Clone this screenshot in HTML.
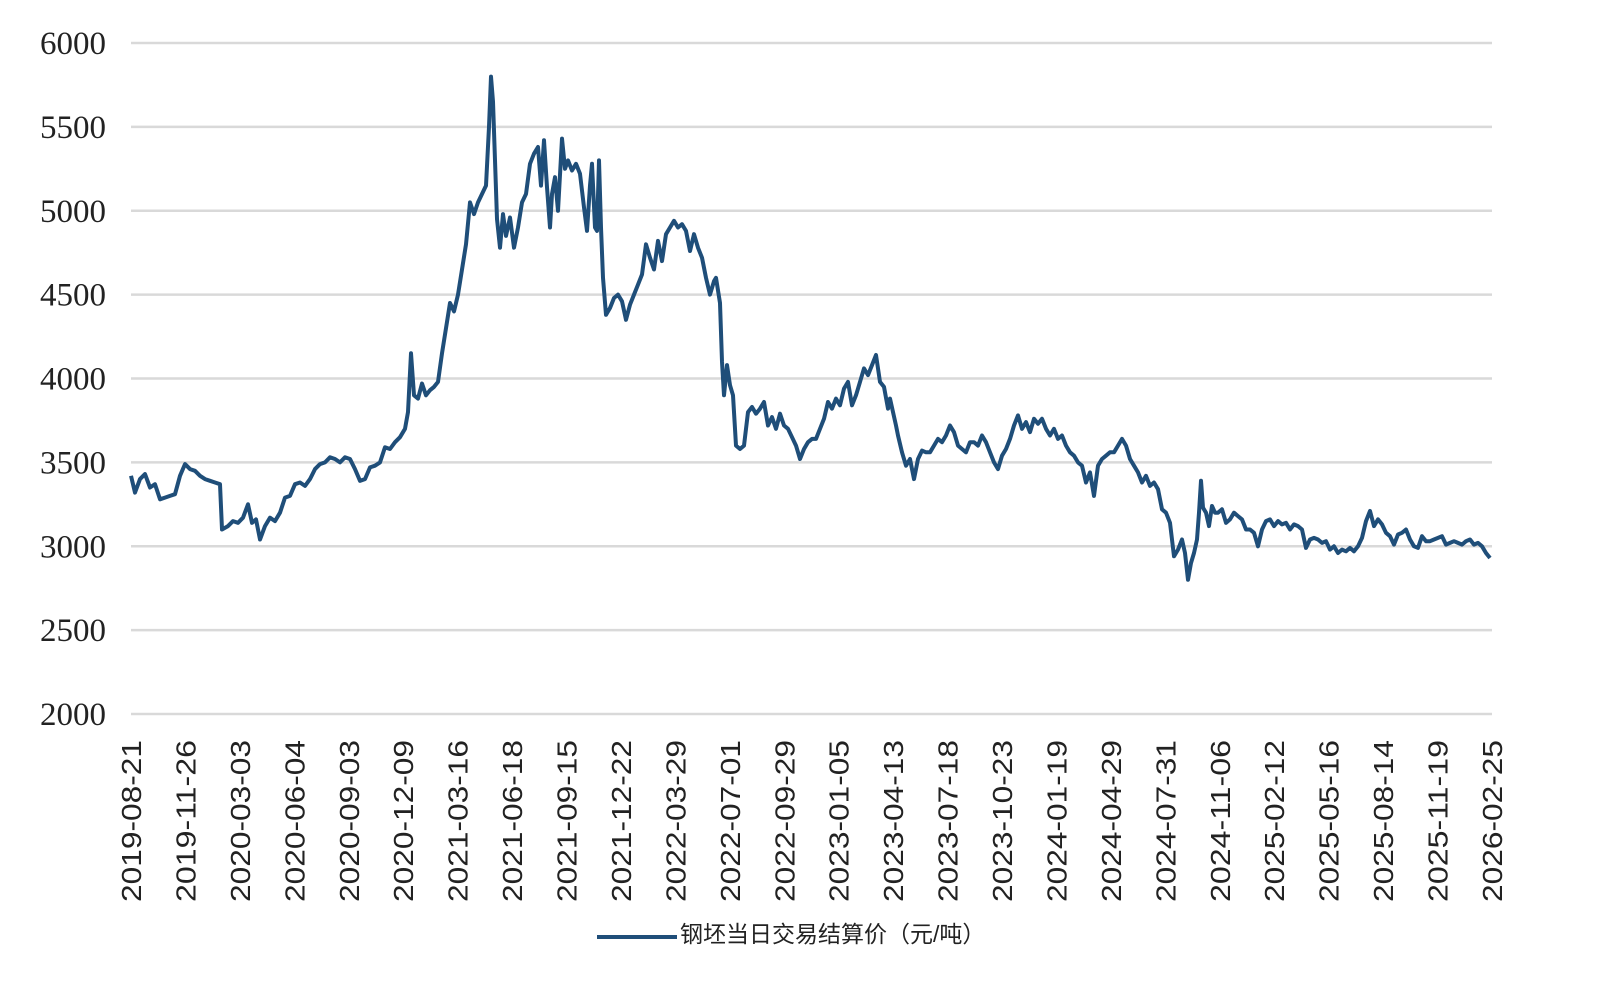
<!DOCTYPE html>
<html><head><meta charset="utf-8"><style>
html,body{margin:0;padding:0;background:#fff;}
svg{display:block;}
</style></head><body>
<svg id="chart" width="1611" height="1008" viewBox="0 0 1611 1008" xmlns="http://www.w3.org/2000/svg">
<g id="grid"></g>
<g id="yaxis"></g>
<g id="xaxis"></g>
<g id="series"></g>
<g>
<line x1="597" y1="937" x2="677" y2="937" stroke="#1f4e79" stroke-width="4"/>
<text x="680" y="942" font-size="23" fill="#222" font-family="'Liberation Sans','Noto Sans CJK SC',sans-serif">钢坯当日交易结算价（元/吨）</text>
</g>
</svg>
<script>
const yTicks = [2000,2500,3000,3500,4000,4500,5000,5500,6000];
const xLabels = ["2019-08-21","2019-11-26","2020-03-03","2020-06-04","2020-09-03","2020-12-09","2021-03-16","2021-06-18","2021-09-15","2021-12-22","2022-03-29","2022-07-01","2022-09-29","2023-01-05","2023-04-13","2023-07-18","2023-10-23","2024-01-19","2024-04-29","2024-07-31","2024-11-06","2025-02-12","2025-05-16","2025-08-14","2025-11-19","2026-02-25"];
const tradeDay = [0,4,9,14,19,24,29,34,39,44,49,54,59,64,69,74,79,84,89,91,97,102,107,112,117,121,125,129,134,139,144,149,154,159,164,169,174,179,184,189,194,199,204,209,214,219,224,229,234,239,244,249,254,259,264,269,274,277,280,283,287,291,295,299,303,307,311,315,319,323,327,331,335,339,343,347,351,355,358,360,362,364,366,369,372,375,379,383,387,391,395,399,403,407,410,413,416,419,421,424,427,431,434,437,441,445,449,453,456,459,461,464,466,468,470,472,475,479,483,487,491,495,499,503,507,511,515,519,523,527,531,535,539,543,547,551,555,559,563,567,571,575,579,583,585,589,591,593,596,599,602,605,609,613,617,621,625,629,633,637,641,645,649,653,657,661,665,669,673,677,681,685,689,693,697,701,705,709,713,717,721,725,729,733,737,741,745,749,753,757,759,762,765,767,771,775,779,783,787,791,795,799,803,807,811,815,819,823,827,831,835,839,843,847,851,855,859,863,867,871,875,879,883,887,891,895,899,903,907,911,915,919,923,927,931,935,939,943,947,951,955,959,963,967,971,975,979,983,987,991,995,999,1003,1007,1011,1015,1019,1023,1027,1031,1035,1039,1043,1047,1051,1054,1057,1060,1063,1066,1068,1070,1072,1075,1078,1081,1084,1087,1091,1095,1099,1103,1107,1111,1115,1119,1123,1127,1131,1135,1139,1143,1147,1151,1155,1159,1163,1167,1171,1175,1179,1183,1187,1191,1195,1199,1203,1207,1211,1215,1219,1223,1227,1231,1235,1239,1243,1247,1251,1255,1259,1263,1267,1271,1275,1279,1283,1287,1291,1295,1299,1303,1307,1311,1315,1319,1323,1327,1331,1335,1339,1343,1347,1351,1355,1359];
const price = [3420,3320,3400,3430,3350,3370,3280,3290,3300,3310,3420,3490,3460,3450,3420,3400,3390,3380,3370,3100,3120,3150,3140,3170,3250,3140,3160,3040,3120,3170,3150,3200,3290,3300,3370,3380,3360,3400,3460,3490,3500,3530,3520,3500,3530,3520,3460,3390,3400,3470,3480,3500,3590,3580,3620,3650,3700,3800,4150,3900,3880,3970,3900,3930,3950,3980,4150,4300,4450,4400,4500,4650,4800,5050,4980,5050,5100,5150,5500,5800,5650,5300,4950,4780,4980,4850,4960,4780,4900,5050,5100,5280,5340,5380,5150,5420,5140,4900,5100,5200,5000,5430,5250,5300,5240,5280,5220,5020,4880,5150,5280,4900,4880,5300,4900,4600,4380,4420,4480,4500,4460,4350,4440,4500,4560,4620,4800,4720,4650,4820,4700,4860,4900,4940,4900,4920,4880,4760,4860,4780,4720,4600,4500,4580,4600,4450,4100,3900,4080,3960,3900,3600,3580,3600,3800,3830,3790,3820,3860,3720,3770,3700,3790,3720,3700,3650,3600,3520,3580,3620,3640,3640,3700,3760,3860,3820,3880,3840,3940,3980,3840,3900,3980,4060,4020,4080,4140,3980,3950,3820,3880,3800,3720,3660,3560,3480,3520,3400,3520,3570,3560,3560,3600,3640,3620,3660,3720,3680,3600,3580,3560,3620,3620,3600,3660,3620,3560,3500,3460,3540,3580,3640,3720,3780,3700,3740,3680,3760,3730,3760,3700,3660,3700,3640,3660,3600,3560,3540,3500,3480,3380,3440,3300,3480,3520,3540,3560,3560,3600,3640,3600,3520,3480,3440,3380,3420,3360,3380,3340,3220,3200,3140,2940,2980,3040,2960,2800,2900,2960,3040,3200,3390,3230,3200,3120,3240,3200,3200,3220,3140,3160,3200,3180,3160,3100,3100,3080,3000,3100,3150,3160,3120,3150,3130,3140,3100,3130,3120,3100,2990,3040,3050,3040,3020,3030,2980,3000,2960,2980,2970,2990,2970,3000,3050,3150,3210,3120,3160,3130,3080,3060,3010,3070,3080,3100,3040,3000,2990,3060,3030,3030,3040,3050,3060,3010,3020,3030,3020,3010,3030,3040,3010,3020,3000,2960,2930];

const NS='http://www.w3.org/2000/svg';
const L=131,R=1492,T=43,B=714;
const yMin=2000,yMax=6000,dMax=1361;
function ys(v){return B-(v-yMin)/(yMax-yMin)*(B-T);}
function xs(d){return L+d/dMax*(R-L);}
function mk(tag,attrs){const e=document.createElementNS(NS,tag);for(const k in attrs)e.setAttribute(k,attrs[k]);return e;}
const grid=document.getElementById('grid'),yax=document.getElementById('yaxis'),xax=document.getElementById('xaxis'),ser=document.getElementById('series');
yTicks.forEach(v=>{
  const ln=mk('line',{x1:L,x2:R,y1:ys(v),y2:ys(v),stroke:'#d9d9d9','stroke-width':2.5});
  
  
  grid.appendChild(ln);
  const t=mk('text',{x:106,y:ys(v)+11,'text-anchor':'end','font-size':33,fill:'#222','font-family':"'Liberation Serif',serif"});
  t.textContent=v;
  
  
  yax.appendChild(t);
});
const n=xLabels.length-1;
xLabels.forEach((s,i)=>{
  const x=L+i*(R-L)/n;
  const t=mk('text',{transform:`translate(${x+10},740) rotate(-90)`,'text-anchor':'end','font-size':28,fill:'#222','font-family':"'Liberation Sans',sans-serif",textLength:162,lengthAdjust:'spacingAndGlyphs'});
  t.textContent=s;
  
  
  xax.appendChild(t);
});
let d='';
tradeDay.forEach((td,i)=>{d+=(i?'L':'M')+xs(td).toFixed(1)+','+ys(price[i]).toFixed(1);});
const p=mk('path',{d:d,fill:'none',stroke:'#1f4e79','stroke-width':4,'stroke-linejoin':'round'});


ser.appendChild(p);
</script>
</body></html>
